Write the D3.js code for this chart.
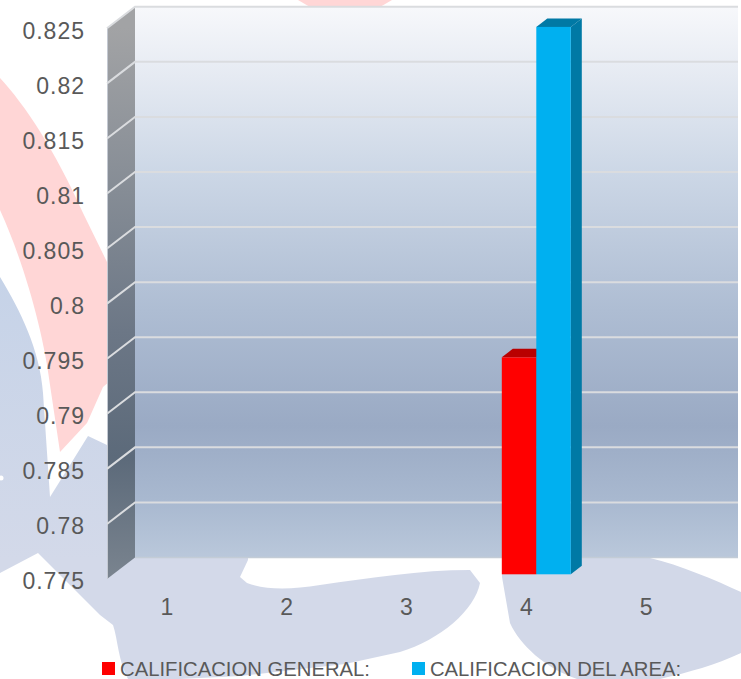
<!DOCTYPE html>
<html><head><meta charset="utf-8">
<script src="https://cdn.jsdelivr.net/npm/d3@7/dist/d3.min.js"></script>
<style>html,body{margin:0;padding:0;background:#fff;overflow:hidden}svg{display:block}
text{font-family:"Liberation Sans",Arial,sans-serif;fill:#595959}</style></head><body>
<script>
const categories = ["1","2","3","4","5"];
const seriesNames = ["CALIFICACION GENERAL:","CALIFICACION DEL AREA:"];
const seriesColors = ["#ff0000","#00b0f0"];
const generalValues = [null,null,null,0.7947,null];
const areaValues = [null,null,null,0.8247,null];
const yTicks = [0.775,0.78,0.785,0.79,0.795,0.8,0.805,0.81,0.815,0.82,0.825];

const W=741,H=679;
const svg=d3.select("body").append("svg").attr("width",W).attr("height",H);
const defs=svg.append("defs");
function grad(id,stops,x1=0,y1=7,x2=0,y2=558){
  const g=defs.append("linearGradient").attr("id",id).attr("gradientUnits","userSpaceOnUse")
    .attr("x1",x1).attr("y1",y1).attr("x2",x2).attr("y2",y2);
  stops.forEach(s=>g.append("stop").attr("offset",s[0]).attr("stop-color",s[1]));
}
grad("wall",[[0,"#f7f8fb"],[0.1,"#e9edf4"],[0.3,"#ccd7e6"],[0.55,"#aebdd3"],[0.76,"#9aaac4"],[0.9,"#a9b9d0"],[1,"#bac8db"]]);
grad("side",[[0,"#a2a3a5"],[0.3,"#858c95"],[0.55,"#6c7786"],[0.78,"#5c6a7a"],[1,"#7a848f"]],0,28,0,579);
grad("ltblue",[[0,"#c6d3e8"],[1,"#d3d9e9"]],0,280,0,560);

// watermark behind the chart
const bg=svg.append("g");
bg.append("path").attr("fill","#ffd6d6").attr("d","M0,78 C25,105 55,150 83,213 L107,262 L135,300 L135,360 L103,387 L87,423 L60,452 L50,385 C44,335 25,265 0,210 Z");
bg.append("path").attr("fill","#ffd6d6").attr("d","M298,0 L392,0 L380,7 L310,7 Z");
bg.append("path").attr("fill","url(#ltblue)").attr("d","M0,277 C20,310 40,350 43,393 L50,497 L70,465 L88,436 L107,445 L135,440 L135,550 L248,550 L248,560 L240,577 L247,583 C265,590 290,590 320,585 C370,578 420,570 470,570 L480,583 C475,610 440,640 400,652 L345,664 L240,676 L180,679 L128,679 C118,660 118,640 113,625 L100,615 L38,553 L0,573 Z");
bg.append("path").attr("fill","#d2d8e8").attr("d","M583,550 L650,550 L650,558 C680,565 715,580 741,592 L741,653 C715,665 690,672 660,679 L577,679 C545,668 520,645 510,623 L502,577 L502,550 Z");
bg.append("circle").attr("cx",1).attr("cy",478).attr("r",2.5).attr("fill","#fff");

// geometry
const floorLeft=107, floorRight=706, depthX=28, depthY=-21.5, wallRight=738;
const y=d3.scaleLinear().domain([0.775,0.825]).range([579,28.3]);
const x=d3.scaleBand().domain(categories).range([floorLeft,floorRight]);
const backY=v=>y(v)+depthY;
const ext=d3.extent(yTicks);

// back wall and side wall
const vTop=ext[1],vBot=ext[0];
svg.append("path").attr("fill","url(#wall)")
  .attr("d",`M${floorLeft+depthX},${backY(vTop)}H${wallRight}V${backY(vBot)}H${floorLeft+depthX}Z`);
svg.append("path").attr("fill","url(#side)")
  .attr("d",`M${floorLeft},${y(vTop)}L${floorLeft+depthX},${backY(vTop)}V${backY(vBot)}L${floorLeft},${y(vBot)}Z`);
svg.append("line").attr("x1",floorLeft+.5).attr("x2",floorLeft+.5).attr("y1",y(vTop)).attr("y2",y(vBot)).attr("stroke","#c4c9d2").attr("stroke-width",1);

// gridlines
const grid=svg.append("g").attr("fill","none").attr("stroke","#dadcdf").attr("stroke-width",2);
yTicks.forEach(v=>{
  if(v===vBot){
    grid.append("line").attr("x1",floorLeft+depthX).attr("x2",wallRight)
      .attr("y1",backY(v)).attr("y2",backY(v)).attr("stroke","#c3ccd6").attr("stroke-width",1.5);
    return;
  }
  grid.append("path").attr("d",`M${floorLeft},${y(v)}L${floorLeft+depthX},${backY(v)}H${wallRight}`);
});

// bars
const barW=34.5, barDX=11, barDY=-8.5, baseInset=4.7;
const barShift=10;
function bar(values,idx){
  const col=seriesColors[idx], dark=d3.color(col).darker(idx===0?0.9:1.05).formatHex();
  const g=svg.append("g");
  categories.forEach((c,i)=>{
    const v=values[i]; if(v==null) return;
    const x0=x(c)+x.bandwidth()/2-barW+barShift+idx*barW;
    const y0=y(v)-baseInset, yb=y(vBot)-baseInset;
    g.append("path").attr("fill",dark).attr("d",`M${x0+barW},${y0}l${barDX},${barDY}V${yb+barDY}l${-barDX},${-barDY}Z`);
    g.append("path").attr("fill",dark).attr("d",`M${x0},${y0}l${barDX},${barDY}h${barW}l${-barDX},${-barDY}Z`);
    g.append("rect").attr("x",x0).attr("y",y0).attr("width",barW).attr("height",yb-y0).attr("fill",col);
  });
}
bar(generalValues,0);
bar(areaValues,1);

// axes
const yAxis=d3.axisLeft(y).tickValues(yTicks).tickSize(0).tickPadding(22).tickFormat(d3.format("~g"));
const yg=svg.append("g").attr("transform",`translate(${floorLeft},2.5)`).call(yAxis);
const xAxis=d3.axisBottom(x).tickSize(0).tickPadding(0);
const xg=svg.append("g").attr("transform","translate(0,599)").call(xAxis);
[yg,xg].forEach(g=>{
  g.select(".domain").remove();
  g.selectAll("text").style("font-family",'"Liberation Sans",Arial,sans-serif').style("font-size","23px").style("fill","#595959");
});
yg.selectAll("text").style("letter-spacing","1px");

// legend
const legendX=[102,412], legendText=[250,251];
const lg=svg.append("g");
seriesNames.forEach((n,i)=>{
  lg.append("rect").attr("x",legendX[i]).attr("y",662).attr("width",13).attr("height",13).attr("fill",seriesColors[i]);
  lg.append("text").attr("x",legendX[i]+18).attr("y",675.5).style("font-size","21px")
    .attr("textLength",legendText[i]).attr("lengthAdjust","spacingAndGlyphs").text(n);
});
</script></body></html>
